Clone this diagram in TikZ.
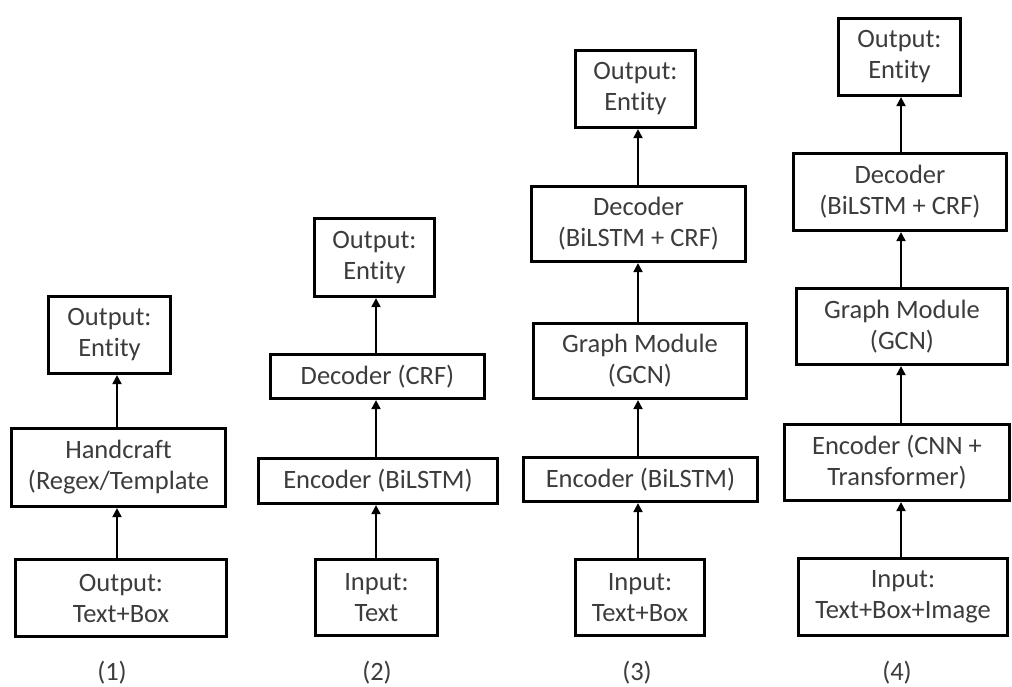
\documentclass[tikz,border=0pt]{standalone}
\usepackage{fontspec}
\setmainfont{Carlito}[Ligatures={NoCommon}]
\usetikzlibrary{arrows.meta}
\definecolor{txt}{HTML}{3C3C3C}
\begin{document}
\begin{tikzpicture}[x=1pt,y=-1pt,
  box/.style={draw=black, line width=3.2pt, inner sep=0pt, align=center,
    text=txt, font=\fontsize{26.5}{31}\selectfont},
  tag/.style={text=txt, font=\fontsize{26.5}{31}\selectfont, inner sep=0pt},
  arr/.style={draw=black, line width=2pt, -{Triangle[width=9pt,length=9pt]}}]
\useasboundingbox (0,0) rectangle (1012,686);

% (1) handcrafted pipeline
\node[box, minimum width=122pt, minimum height=77pt] (oe1) at (109.5,335) {Output:\\Entity};
\node[box, minimum width=214pt, minimum height=78pt] (hc) at (118.5,467.5) {Handcraft\\(Regex/Template};
\node[box, minimum width=211pt, minimum height=77pt] (in1) at (121,598) {Output:\\Text+Box};
\coordinate (c1) at (117,0);
\draw[arr] (in1.north -| c1) -- (hc.south -| c1);
\draw[arr] (hc.north -| c1) -- (oe1.south -| c1);
\node[tag] (l1) at (112,673) {(1)};

% (2) BiLSTM + CRF
\node[box, minimum width=120pt, minimum height=78pt] (oe2) at (374.5,257.5) {Output:\\Entity};
\node[box, minimum width=214pt, minimum height=44pt] (dec2) at (377.5,376.5) {Decoder (CRF)};
\node[box, minimum width=239pt, minimum height=45pt] (enc2) at (378,481) {Encoder (BiLSTM)};
\node[box, minimum width=122pt, minimum height=76pt] (in2) at (376.5,597.5) {Input:\\Text};
\coordinate (c2) at (376,0);
\draw[arr] (in2.north -| c2) -- (enc2.south -| c2);
\draw[arr] (enc2.north -| c2) -- (dec2.south -| c2);
\draw[arr] (dec2.north -| c2) -- (oe2.south -| c2);
\node[tag] (l2) at (377,673) {(2)};

% (3) BiLSTM + GCN
\node[box, minimum width=120pt, minimum height=77pt] (oe3) at (635.5,89) {Output:\\Entity};
\node[box, minimum width=214pt, minimum height=75pt] (dec3) at (638.5,224) {Decoder\\(BiLSTM + CRF)};
\node[box, minimum width=213pt, minimum height=75pt] (gm3) at (640,361) {Graph Module\\(GCN)};
\node[box, minimum width=234pt, minimum height=44pt] (enc3) at (640.5,479.5) {Encoder (BiLSTM)};
\node[box, minimum width=129pt, minimum height=76pt] (in3) at (640,597.5) {Input:\\Text+Box};
\coordinate (c3) at (638,0);
\draw[arr] (in3.north -| c3) -- (enc3.south -| c3);
\draw[arr] (enc3.north -| c3) -- (gm3.south -| c3);
\draw[arr] (gm3.north -| c3) -- (dec3.south -| c3);
\draw[arr] (dec3.north -| c3) -- (oe3.south -| c3);
\node[tag] (l3) at (637,673) {(3)};

% (4) CNN + Transformer + GCN
\node[box, minimum width=122pt, minimum height=77pt] (oe4) at (899.5,57) {Output:\\Entity};
\node[box, minimum width=213pt, minimum height=77pt] (dec4) at (900,192) {Decoder\\(BiLSTM + CRF)};
\node[box, minimum width=211pt, minimum height=76pt] (gm4) at (902,326.5) {Graph Module\\(GCN)};
\node[box, minimum width=225pt, minimum height=76pt] (enc4) at (897,462.5) {Encoder (CNN +\\Transformer)};
\node[box, minimum width=209pt, minimum height=77pt] (in4) at (903,597) {Input:\\Text+Box+Image};
\coordinate (c4) at (901,0);
\draw[arr] (in4.north -| c4) -- (enc4.south -| c4);
\draw[arr] (enc4.north -| c4) -- (gm4.south -| c4);
\draw[arr] (gm4.north -| c4) -- (dec4.south -| c4);
\draw[arr] (dec4.north -| c4) -- (oe4.south -| c4);
\node[tag] (l4) at (897,673) {(4)};
\end{tikzpicture}
\end{document}
